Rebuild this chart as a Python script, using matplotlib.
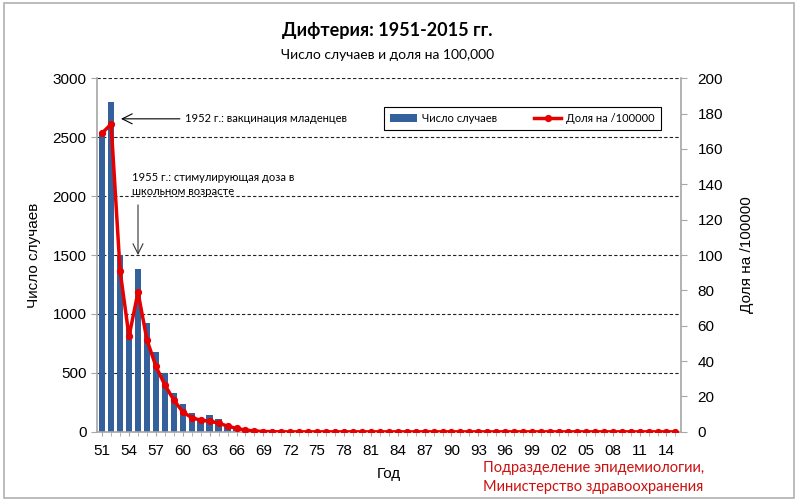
import matplotlib.pyplot as plt
from matplotlib.patches import Rectangle

years = list(range(1951, 2016))
year_labels = [str(y)[2:] for y in years]

# number of cases per year
cases = [2540, 2800, 1500, 900, 1380, 925, 675, 500, 330, 235,
         160, 115, 140, 105, 57, 37, 20, 8, 3, 2,
         0, 0, 0, 0, 0, 0, 0, 0, 0, 0,
         0, 0, 0, 0, 0, 0, 0, 0, 0, 0,
         0, 0, 0, 0, 0, 0, 0, 0, 0, 0,
         0, 0, 0, 0, 0, 0, 0, 0, 0, 0,
         0, 0, 0, 0, 0]

# rate per 100000
rate = [169, 174, 91, 54, 79, 52, 37, 26.5, 18, 11.3,
        8, 6.6, 6, 5, 3.2, 2, 1, 0.5, 0.2, 0.1,
        0, 0, 0, 0, 0, 0, 0, 0, 0, 0,
        0, 0, 0, 0, 0, 0, 0, 0, 0, 0,
        0, 0, 0, 0, 0, 0, 0, 0, 0, 0,
        0, 0, 0, 0, 0, 0, 0, 0, 0, 0,
        0, 0, 0, 0, 0]

left_ticks = [0, 500, 1000, 1500, 2000, 2500, 3000]
right_ticks = [0, 20, 40, 60, 80, 100, 120, 140, 160, 180, 200]

plt.rcParams['font.family'] = ['Liberation Sans', 'DejaVu Sans']
narrow = ['Lato', 'DejaVu Sans']
grey = '#a6a6a6'

fig = plt.figure(figsize=(8, 5.01), dpi=100)
ax = fig.add_axes([0.121, 0.138, 0.730, 0.706])
ax2 = ax.twinx()

x = list(range(len(years)))
ax.bar(x, cases, width=0.72, color='#34609c', label='Число случаев', zorder=2)
ax2.plot(x, rate, '-o', color='#e60000', lw=2.5, ms=4.2, label='Доля на /100000')

ax.set_xlim(-0.6, len(years) - 0.4)
ax.set_ylim(0, 3000)
ax2.set_ylim(0, 200)
ax.set_yticks(left_ticks)
ax2.set_yticks(right_ticks)
ax.set_xticks(x[::3])
ax.set_xticklabels(year_labels[::3])
ax.set_xticks(x, minor=True)

ax.set_axisbelow(True)
ax.yaxis.grid(True, linestyle=(0, (3, 2)), color='#222222', lw=0.8)

for a in (ax, ax2):
    for s in a.spines.values():
        s.set_visible(False)
ax.spines['left'].set_visible(True)
ax.spines['bottom'].set_visible(True)
ax2.spines['right'].set_visible(True)
for s in (ax.spines['left'], ax.spines['bottom'], ax2.spines['right']):
    s.set_color(grey)
    s.set_linewidth(1.2)

ax.tick_params(axis='both', direction='out', length=4, color=grey, labelsize=11)
ax.tick_params(axis='x', which='both', length=3, pad=6, color=grey)
ax2.tick_params(axis='y', direction='out', length=4, color=grey, labelsize=11, pad=8)

ax.set_xlabel('Год', fontsize=11, labelpad=6)
ax.set_ylabel('Число случаев', fontsize=11, labelpad=8)
ax2.set_ylabel('Доля на /100000', fontsize=11, labelpad=12)

h1, l1 = ax.get_legend_handles_labels()
h2, l2 = ax2.get_legend_handles_labels()
leg = ax2.legend(h1 + h2, l1 + l2, ncol=2, loc='upper right',
                 bbox_to_anchor=(0.975, 0.935), fancybox=False, edgecolor='black',
                 framealpha=1, columnspacing=3.3, handlelength=2.5, handletextpad=0.4,
                 prop={'family': narrow, 'size': 8}, borderpad=0.55)
leg.get_frame().set_linewidth(0.8)

fig.text(0.484, 0.940, 'Дифтерия: 1951-2015 гг.', ha='center', va='center',
         fontsize=13, fontweight='bold', family=narrow)
fig.text(0.484, 0.890, 'Число случаев и доля на 100,000', ha='center', va='center',
         fontsize=10, family=narrow)

ax.annotate('1952 г.: вакцинация младенцев', xy=(2.1, 2655), xytext=(9.3, 2655),
            va='center', ha='left', fontsize=8, family=narrow,
            arrowprops=dict(arrowstyle='->', color='black', lw=0.8, shrinkB=0, shrinkA=2,
                            mutation_scale=18))
ax.text(3.3, 2100, '1955 г.: стимулирующая доза в\nшкольном возрасте',
        va='center', ha='left', fontsize=8, family=narrow, linespacing=1.35)
ax.annotate('', xy=(4, 1500), xytext=(4, 1925),
            arrowprops=dict(arrowstyle='->', color='#333333', lw=0.8, shrinkA=0, shrinkB=0,
                            mutation_scale=18))

fig.text(0.604, 0.047, 'Подразделение эпидемиологии,\nМинистерство здравоохранения',
         ha='left', va='center', color='#cc1111', fontsize=10.5, family=narrow,
         linespacing=1.45)

fig.patches.append(Rectangle((0.005, 0.006), 0.987, 0.988, transform=fig.transFigure,
                             fill=False, edgecolor='#b0b0b0', lw=1.2))

fig.savefig('out.png', dpi=100)
